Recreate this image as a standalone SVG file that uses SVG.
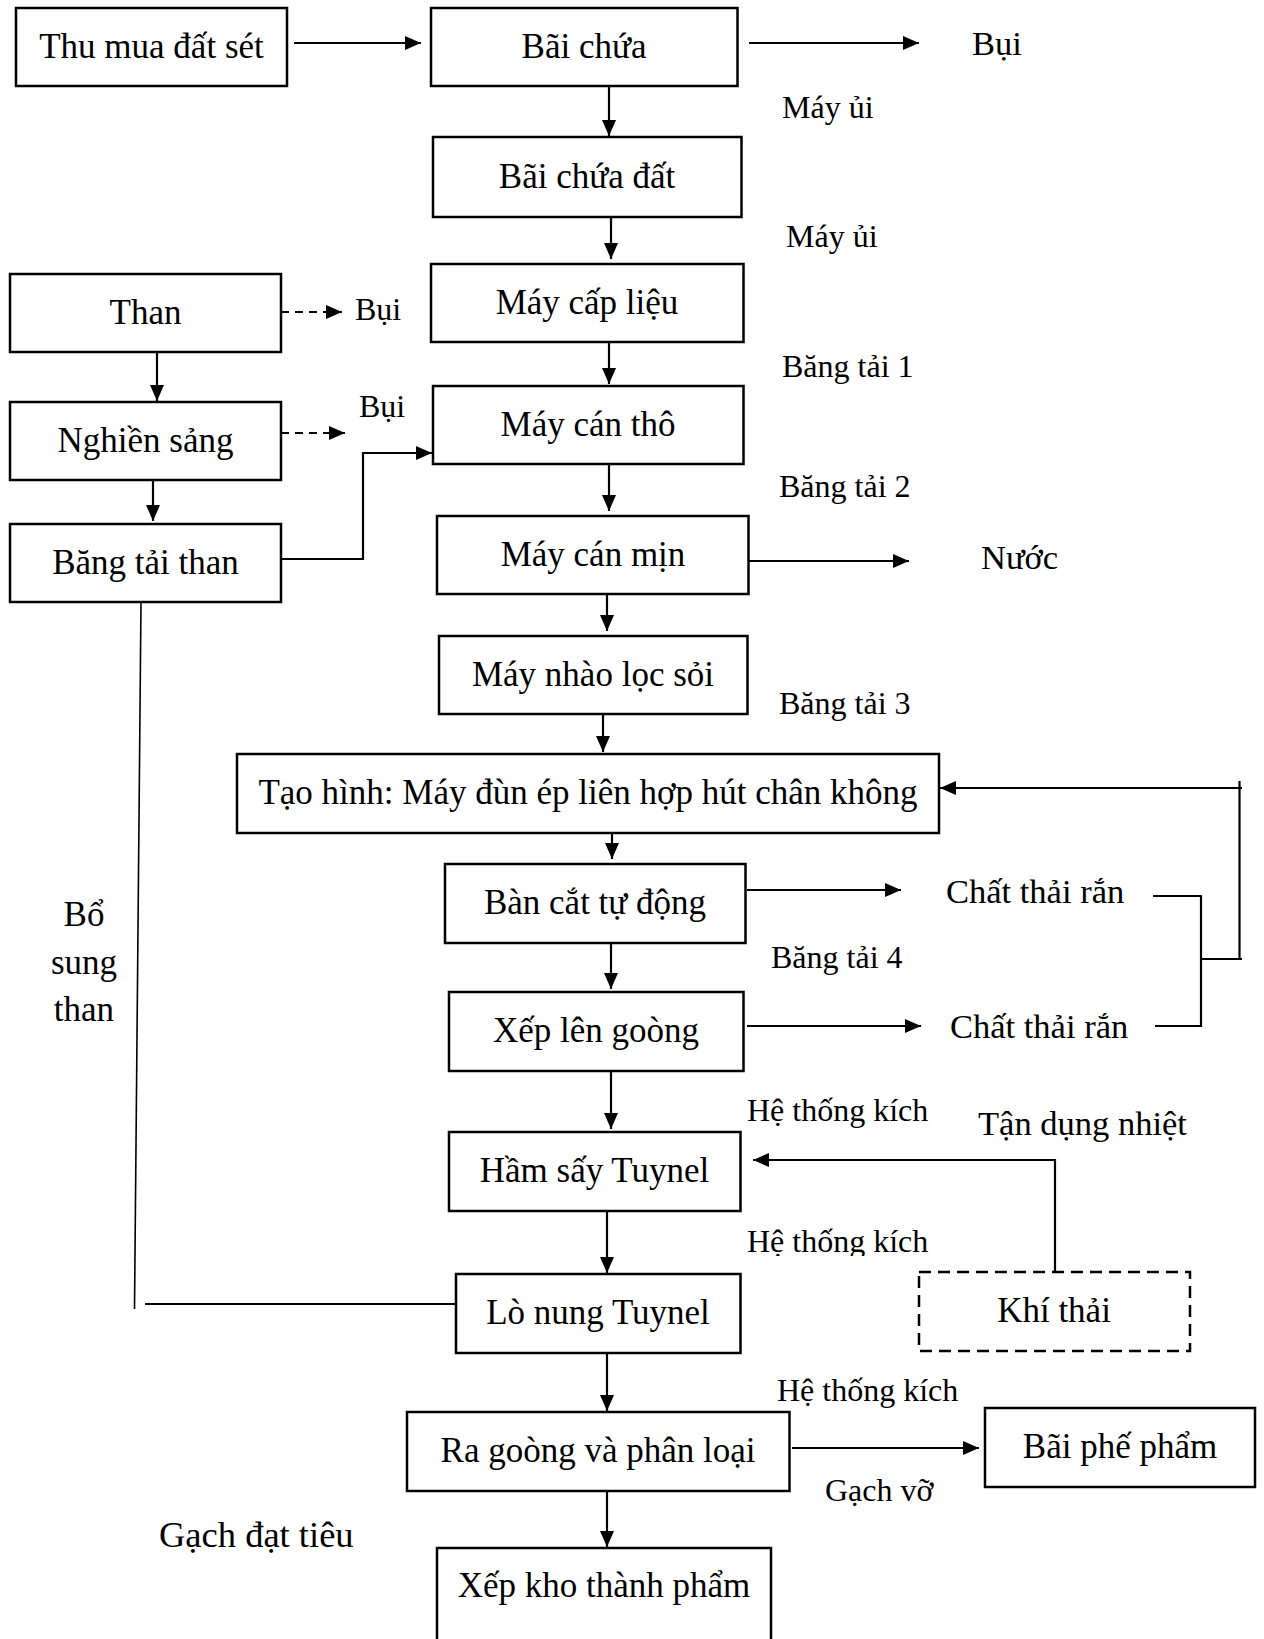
<svg xmlns="http://www.w3.org/2000/svg" width="1264" height="1639" viewBox="0 0 1264 1639">
  <defs>
    <style>
      text { font-family: "Liberation Serif", "Times New Roman", serif; fill: #000; }
      .box { fill: #fff; stroke: #000; stroke-width: 2.5; }
      .dbox { fill: #fff; stroke: #000; stroke-width: 2.5; stroke-dasharray: 12 7; }
      .lbl { font-size: 35px; text-anchor: middle; }
      .sm { font-size: 32px; }
      .md { font-size: 34.5px; }
      .ln { fill: none; stroke: #000; stroke-width: 2.2; }
      .thin { fill: none; stroke: #000; stroke-width: 1.6; }
      .dash { fill: none; stroke: #000; stroke-width: 2.2; stroke-dasharray: 8 6; }
      .arr { marker-end: url(#ah); }
    </style>
    <marker id="ah" markerUnits="userSpaceOnUse" markerWidth="17" markerHeight="15" refX="16" refY="7" orient="auto">
      <path d="M0,0 L16,7 L0,14 Z" fill="#000"/>
    </marker>
    <clipPath id="clipKich2">
      <rect x="700" y="1200" width="300" height="56"/>
    </clipPath>
  </defs>
  <rect width="1264" height="1639" fill="#fff"/>

  <!-- connectors -->
  <g id="connectors">
    <line class="ln arr" x1="294" y1="43" x2="421" y2="43"/>
    <line class="ln arr" x1="749" y1="43" x2="919" y2="43"/>
    <line class="ln arr" x1="609" y1="86" x2="609" y2="136"/>
    <line class="ln arr" x1="611" y1="217" x2="611" y2="259"/>
    <line class="ln arr" x1="609" y1="342" x2="609" y2="384"/>
    <line class="ln arr" x1="609" y1="464" x2="609" y2="511"/>
    <line class="ln arr" x1="607" y1="594" x2="607" y2="631"/>
    <line class="ln arr" x1="603" y1="714" x2="603" y2="752"/>
    <line class="ln arr" x1="612" y1="833" x2="612" y2="859"/>
    <line class="ln arr" x1="611" y1="943" x2="611" y2="989"/>
    <line class="ln arr" x1="611" y1="1071" x2="611" y2="1129"/>
    <line class="ln arr" x1="607" y1="1211" x2="607" y2="1273"/>
    <line class="ln arr" x1="607" y1="1353" x2="607" y2="1411"/>
    <line class="ln arr" x1="607" y1="1491" x2="607" y2="1547"/>

    <!-- coal line -->
    <line class="dash arr" x1="281" y1="312" x2="342" y2="312"/>
    <line class="ln arr" x1="157" y1="352" x2="157" y2="401"/>
    <line class="dash arr" x1="281" y1="433" x2="345" y2="433"/>
    <line class="ln arr" x1="153" y1="480" x2="153" y2="521"/>
    <polyline class="ln arr" points="281,559 363,559 363,453 432,453"/>
    <line class="thin" x1="141" y1="602" x2="134.5" y2="1309"/>
    <line class="ln" x1="145" y1="1304" x2="456" y2="1304"/>

    <!-- side outputs -->
    <line class="ln arr" x1="749" y1="561" x2="909" y2="561"/>
    <line class="ln arr" x1="747" y1="890" x2="901" y2="890"/>
    <line class="ln arr" x1="747" y1="1026" x2="921" y2="1026"/>
    <line class="ln arr" x1="792" y1="1448" x2="979" y2="1448"/>

    <!-- solid waste return loop -->
    <polyline class="ln" points="1153,896 1201,896 1201,1027"/>
    <line class="ln" x1="1155" y1="1026" x2="1201" y2="1026"/>
    <line class="ln" x1="1201" y1="959" x2="1242" y2="959"/>
    <line class="ln" x1="1239.5" y1="781" x2="1239.5" y2="959"/>
    <line class="ln arr" x1="1242" y1="788" x2="940" y2="788"/>

    <!-- heat recovery -->
    <polyline class="ln arr" points="1055,1272 1055,1160 753,1160"/>
  </g>

  <!-- nodes -->
  <g id="n-thu-mua"><rect class="box" x="16" y="8" width="271" height="78"/><text class="lbl" x="151.5" y="58">Thu mua đất sét</text></g>
  <g id="n-bai-chua"><rect class="box" x="431" y="8" width="306.5" height="78"/><text class="lbl" x="584" y="58">Bãi chứa</text></g>
  <g id="n-bai-chua-dat"><rect class="box" x="433" y="137" width="308.5" height="80"/><text class="lbl" x="587" y="188">Bãi chứa đất</text></g>
  <g id="n-may-cap-lieu"><rect class="box" x="431" y="264" width="312.5" height="78"/><text class="lbl" x="587" y="314">Máy cấp liệu</text></g>
  <g id="n-may-can-tho"><rect class="box" x="433" y="386" width="310.5" height="78"/><text class="lbl" x="588" y="436">Máy cán thô</text></g>
  <g id="n-may-can-min"><rect class="box" x="437" y="516" width="311.5" height="78"/><text class="lbl" x="593" y="566">Máy cán mịn</text></g>
  <g id="n-may-nhao"><rect class="box" x="439" y="636" width="308.5" height="78"/><text class="lbl" x="593" y="686">Máy nhào lọc sỏi</text></g>
  <g id="n-tao-hinh"><rect class="box" x="237" y="754" width="702" height="79"/><text class="lbl" x="588" y="804">Tạo hình: Máy đùn ép liên hợp hút chân không</text></g>
  <g id="n-ban-cat"><rect class="box" x="445" y="864" width="300.5" height="79"/><text class="lbl" x="595" y="914">Bàn cắt tự động</text></g>
  <g id="n-xep-goong"><rect class="box" x="449" y="992" width="294.5" height="79"/><text class="lbl" x="596" y="1042">Xếp lên goòng</text></g>
  <g id="n-ham-say"><rect class="box" x="449" y="1132" width="291.5" height="79"/><text class="lbl" x="594.5" y="1182">Hầm sấy Tuynel</text></g>
  <g id="n-lo-nung"><rect class="box" x="456" y="1274" width="284.5" height="79"/><text class="lbl" x="598" y="1324">Lò nung Tuynel</text></g>
  <g id="n-ra-goong"><rect class="box" x="407" y="1412" width="382.5" height="79"/><text class="lbl" x="598" y="1462">Ra goòng và phân loại</text></g>
  <g id="n-xep-kho"><rect class="box" x="437" y="1548" width="334" height="100"/><text class="lbl" x="604" y="1597">Xếp kho thành phẩm</text></g>
  <g id="n-bai-phe-pham"><rect class="box" x="985" y="1408" width="270" height="79"/><text class="lbl" x="1120" y="1458">Bãi phế phẩm</text></g>
  <g id="n-than"><rect class="box" x="10" y="274" width="271" height="78"/><text class="lbl" x="145.5" y="324">Than</text></g>
  <g id="n-nghien-sang"><rect class="box" x="10" y="402" width="271" height="78"/><text class="lbl" x="145.5" y="452">Nghiền sảng</text></g>
  <g id="n-bang-tai-than"><rect class="box" x="10" y="524" width="271" height="78"/><text class="lbl" x="145.5" y="574">Băng tải than</text></g>
  <g id="n-khi-thai"><rect class="dbox" x="919" y="1272" width="271" height="79"/><text class="lbl" x="1054" y="1322">Khí thải</text></g>

  <!-- labels -->
  <g id="labels">
    <text class="md" x="972" y="55">Bụi</text>
    <text class="sm" x="782" y="118">Máy ủi</text>
    <text class="sm" x="786" y="247">Máy ủi</text>
    <text class="sm" x="355" y="320">Bụi</text>
    <text class="sm" x="359" y="417">Bụi</text>
    <text class="sm" x="782" y="377">Băng tải 1</text>
    <text class="sm" x="779" y="497">Băng tải 2</text>
    <text class="md" x="981" y="569">Nước</text>
    <text class="sm" x="779" y="714">Băng tải 3</text>
    <text class="md" x="946" y="903">Chất thải rắn</text>
    <text class="sm" x="771" y="968">Băng tải 4</text>
    <text class="md" x="950" y="1038">Chất thải rắn</text>
    <text class="sm" x="747" y="1121">Hệ thống kích</text>
    <text class="md" x="978" y="1135">Tận dụng nhiệt</text>
    <text class="sm" x="747" y="1252" clip-path="url(#clipKich2)">Hệ thống kích</text>
    <text class="sm" x="777" y="1401">Hệ thống kích</text>
    <text class="sm" x="825" y="1501">Gạch vỡ</text>
    <text x="159" y="1547" style="font-size:36.5px">Gạch đạt tiêu</text>
    <text class="lbl" x="84" y="926">Bổ</text>
    <text class="lbl" x="84" y="974">sung</text>
    <text class="lbl" x="84" y="1021">than</text>
  </g>
</svg>
